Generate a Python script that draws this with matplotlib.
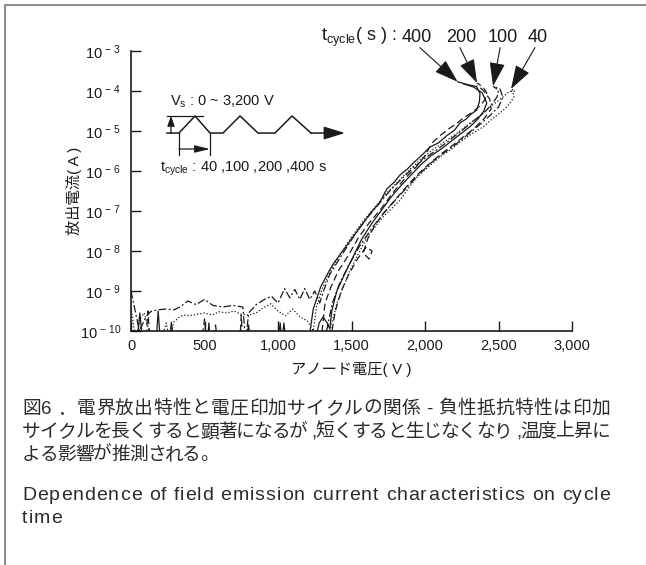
import numpy as np
import matplotlib
matplotlib.use('Agg')
import matplotlib.pyplot as plt
from matplotlib.font_manager import FontProperties
from matplotlib.lines import Line2D

plt.rcParams['font.family'] = ['Liberation Sans', 'Noto Sans CJK JP']
plt.rcParams['mathtext.fontset'] = 'custom'
plt.rcParams['mathtext.rm'] = 'Liberation Sans'
plt.rcParams['mathtext.it'] = 'Liberation Sans:italic'

# ---- data (anode voltage in V, current as log10(A)) ----
cycles = [400, 200, 100, 40]
peak_v = [2222, 2354, 2463, 2585]
peak_lg = [-3.77, -3.80, -3.88, -3.95]

# low-voltage noise floor, one trace per line style
v_noise_solid = [0, 40, 60, 80, 170, 185, 200, 260, 275, 290, 520, 530, 540, 780, 800, 815,
                 1000, 1015, 1025, 1040, 1055, 1200]
lg_noise_solid = [-10.3, -10.3, -9.55, -10.3, -10.3, -9.5, -10.3, -10.3, -9.78, -10.3, -10.3, -9.8,
                  -10.3, -10.3, -9.85, -10.3, -10.3, -9.8, -10.3, -9.8, -10.3, -10.3]
v_noise_dash = [0, 100, 115, 130, 480, 500, 515, 560, 575, 590, 740, 750, 760, 1200]
lg_noise_dash = [-10.3, -10.3, -9.5, -10.3, -10.3, -9.7, -10.3, -10.3, -9.85, -10.3, -10.3, -9.6,
                 -10.3, -10.3]
v_noise_dd = [0, 57, 102, 136, 182, 239, 295, 341, 386, 443, 500, 557, 625, 693, 761, 780, 800,
              852, 909, 955, 1000, 1045, 1080, 1114, 1148, 1182, 1216, 1250]
lg_noise_dd = [-9.0, -10.0, -9.64, -9.51, -9.47, -9.45, -9.47, -9.38, -9.25, -9.34, -9.21, -9.36,
               -9.4, -9.36, -9.4, -10.3, -9.55, -9.34, -9.21, -9.13, -9.3, -8.94, -9.17, -8.96,
               -9.21, -8.94, -9.21, -9.0]
v_noise_dot = [0, 35, 60, 90, 115, 150, 200, 240, 265, 290, 330, 360, 400, 450, 500, 550, 600,
               650, 700, 750, 800, 850, 900, 950, 1000, 1050, 1100, 1150, 1200]
lg_noise_dot = [-9.4, -10.3, -9.7, -9.55, -9.9, -10.3, -10.3, -9.8, -10.3, -9.78, -9.65, -9.6,
                -9.62, -9.58, -9.55, -9.6, -9.52, -9.55, -9.5, -9.58, -9.6, -9.55, -9.42, -9.32,
                -9.5, -9.62, -9.45, -9.65, -9.75]

# t_cycle = 400 s (solid)
v_400a = [1218, 1240, 1290, 1340, 1380, 1440, 1500, 1560, 1630, 1690, 1740, 1790, 1830, 1880,
          1920, 1980, 2034, 2090, 2147, 2200, 2238, 2280, 2306, 2351, 2370, 2374, 2351, 2290, 2222]
lg_400a = [-10.0, -9.45, -8.9, -8.55, -8.3, -8.0, -7.7, -7.4, -7.05, -6.8, -6.45, -6.28, -6.1,
           -5.95, -5.8, -5.6, -5.4, -5.3, -5.12, -4.98, -4.8, -4.7, -4.6, -4.48, -4.27, -4.06,
           -3.89, -3.84, -3.77]
v_400b = [1250, 1280, 1306, 1335, 1352, 1366, 1400, 1450, 1510, 1570, 1640, 1700, 1770, 1840,
          1900, 1970, 2040, 2110, 2180, 2250, 2310, 2360, 2400, 2420, 2390, 2330, 2260]
lg_400b = [-10.3, -9.8, -9.65, -9.8, -9.95, -9.5, -9.0, -8.6, -8.15, -7.7, -7.3, -7.0, -6.65,
           -6.35, -6.12, -5.85, -5.62, -5.45, -5.25, -5.05, -4.88, -4.7, -4.5, -4.3, -4.05,
           -3.9, -3.82]
# t_cycle = 200 s (dashed)
v_200a = [1300, 1320, 1360, 1410, 1480, 1550, 1620, 1700, 1780, 1860, 1940, 2000, 2045, 2100,
          2160, 2220, 2259, 2327, 2380, 2410, 2420, 2395, 2354]
lg_200a = [-10.0, -9.3, -8.9, -8.5, -8.1, -7.65, -7.3, -6.95, -6.55, -6.2, -5.9, -5.62, -5.31,
           -5.12, -4.95, -4.8, -4.68, -4.52, -4.35, -4.2, -4.05, -3.9, -3.8]
v_200b = [1367, 1390, 1430, 1480, 1540, 1600, 1640, 1620, 1580, 1610, 1660, 1720, 1790, 1860,
          1940, 2020, 2100, 2180, 2260, 2330, 2400, 2450, 2440, 2400, 2354]
lg_200b = [-10.0, -9.5, -9.0, -8.6, -8.2, -7.9, -8.0, -8.2, -8.05, -7.7, -7.35, -7.05, -6.75,
           -6.45, -6.12, -5.85, -5.6, -5.38, -5.15, -4.95, -4.7, -4.45, -4.2, -4.0, -3.85]
# t_cycle = 100 s (dash-dot)
v_100a = [1284, 1310, 1350, 1400, 1460, 1530, 1600, 1680, 1760, 1840, 1920, 2000, 2080, 2160,
          2240, 2320, 2400, 2450, 2490, 2500, 2463]
lg_100a = [-9.3, -9.0, -8.6, -8.3, -7.95, -7.55, -7.2, -6.85, -6.5, -6.2, -5.92, -5.68, -5.47,
           -5.25, -5.02, -4.78, -4.55, -4.35, -4.15, -3.98, -3.88]
v_100b = [1330, 1370, 1420, 1490, 1560, 1640, 1720, 1800, 1880, 1960, 2040, 2120, 2200, 2280,
          2360, 2440, 2500, 2530, 2510, 2463]
lg_100b = [-10.0, -9.3, -8.8, -8.3, -7.85, -7.42, -7.05, -6.72, -6.4, -6.08, -5.8, -5.57, -5.36,
           -5.12, -4.88, -4.62, -4.4, -4.15, -3.95, -3.88]
# t_cycle = 40 s (dotted)
v_40a = [1240, 1262, 1300, 1350, 1420, 1500, 1580, 1660, 1740, 1820, 1900, 1980, 2060, 2140,
         2220, 2300, 2380, 2460, 2530, 2570, 2610, 2600, 2585]
lg_40a = [-10.0, -9.4, -8.95, -8.55, -8.1, -7.65, -7.25, -6.9, -6.55, -6.25, -5.95, -5.68, -5.45,
          -5.25, -5.05, -4.82, -4.6, -4.35, -4.15, -4.02, -4.0, -3.97, -3.95]
v_40b = [1354, 1401, 1450, 1490, 1550, 1605, 1660, 1714, 1770, 1830, 1890, 1946, 2000, 2054,
         2110, 2170, 2230, 2286, 2340, 2395, 2450, 2510, 2550, 2578, 2605, 2599, 2585]
lg_40b = [-10.0, -9.3, -8.85, -8.48, -8.05, -7.65, -7.4, -7.15, -6.95, -6.73, -6.42, -6.15,
          -5.97, -5.8, -5.62, -5.48, -5.3, -5.15, -5.02, -4.9, -4.72, -4.55, -4.42, -4.3, -4.15,
          -4.05, -3.97]

x_ticks = [0, 500, 1000, 1500, 2000, 2500, 3000]
x_tick_labels = ['0', '500', '1,000', '1,500', '2,000', '2,500', '3,000']
y_exps = [-10, -9, -8, -7, -6, -5, -4, -3]

cap_jp = ['図6 ．電界放出特性と電圧印加サイクルの関係 - 負性抵抗特性は印加',
          'サイクルを長くすると顕著になるが ,短くすると生じなくなり ,温度上昇に',
          'よる影響が推測される。']
cap_en = ['Dependence of field emission current characteristics on cycle', 'time']

INK = '#1a1a1a'
CAP = '#2b2b2b'
W, H = 646, 565

fig = plt.figure(figsize=(W / 100, H / 100), dpi=100)
ax = fig.add_axes([131 / W, 1 - 331 / H, 441 / W, 280 / H])

styles = {'solid': '-', 'dash': (0, (5.5, 3)), 'dd': (0, (6, 2, 1.5, 2)), 'dot': (0, (1, 1.6))}
traces = [
    (v_noise_solid + v_400a, lg_noise_solid + lg_400a, 'solid'),
    (v_400b, lg_400b, 'solid'),
    (v_noise_dash + v_200a, lg_noise_dash + lg_200a, 'dash'),
    (v_200b, lg_200b, 'dash'),
    (v_noise_dd + v_100a, lg_noise_dd + lg_100a, 'dd'),
    (v_100b, lg_100b, 'dd'),
    (v_noise_dot + v_40a, lg_noise_dot + lg_40a, 'dot'),
    (v_40b, lg_40b, 'dot'),
]
for v, lg, st in traces:
    ax.plot(v, 10.0 ** np.array(lg), color=INK, lw=0.9, ls=styles[st])

ax.set_yscale('log')
ax.set_xlim(0, 3000)
ax.set_ylim(1e-10, 1e-3)
ax.set_xticks(x_ticks)
ax.set_xticklabels(x_tick_labels)
ax.set_yticks([10.0 ** e for e in y_exps])
ax.set_yticklabels([r'10$^{\mathregular{\,-\,%d}}$' % (-e) for e in y_exps])
ax.yaxis.set_minor_locator(matplotlib.ticker.NullLocator())
ax.tick_params(direction='in', length=7, width=1, color=INK, labelsize=10.5, labelcolor=INK)
ax.tick_params(axis='y', pad=7)
ax.tick_params(axis='x', pad=6)
for s in ['top', 'right']:
    ax.spines[s].set_visible(False)
for s in ['left', 'bottom']:
    ax.spines[s].set_linewidth(1.2)
    ax.spines[s].set_color(INK)

ax.set_xlabel('アノード電圧( V )', fontsize=11, color=INK)
ax.xaxis.set_label_coords(0.5, -0.11)
ax.set_ylabel('放出電流( A )', fontsize=11, color=INK)
ax.yaxis.set_label_coords(-0.11, 0.5)

# inset: applied voltage waveform (axes coordinates)
wave_x = [0.0816, 0.1088, 0.1451, 0.1791, 0.2086, 0.2472, 0.2880, 0.3265, 0.3651, 0.4082]
wave_y = [0.707, 0.707, 0.768, 0.707, 0.707, 0.768, 0.707, 0.707, 0.768, 0.707]
ax.plot(wave_x, wave_y, color=INK, lw=1.1, transform=ax.transAxes, clip_on=False)
ax.annotate('', xy=(0.4853, 0.707), xytext=(0.4082, 0.707), xycoords='axes fraction',
            arrowprops=dict(arrowstyle='-|>,head_length=0.65,head_width=0.2', color=INK, lw=1.1,
                            mutation_scale=20, shrinkA=0, shrinkB=0))
ax.plot([0.0816, 0.163], [0.768, 0.768], color=INK, lw=0.9, transform=ax.transAxes)
ax.annotate('', xy=(0.0907, 0.768), xytext=(0.0907, 0.707), xycoords='axes fraction',
            arrowprops=dict(arrowstyle='-|>,head_length=0.55,head_width=0.2', color=INK, lw=0.9,
                            mutation_scale=11, shrinkA=0, shrinkB=0))
for xb in [0.1088, 0.1791]:
    ax.plot([xb, xb], [0.707, 0.627], color=INK, lw=0.9, transform=ax.transAxes)
ax.annotate('', xy=(0.1791, 0.65), xytext=(0.1088, 0.65), xycoords='axes fraction',
            arrowprops=dict(arrowstyle='-|>,head_length=0.7,head_width=0.17', color=INK, lw=0.9,
                            mutation_scale=13, shrinkA=0, shrinkB=0))
ax.text(0.088, 0.818, r'V$_\mathregular{s}$ : 0 ~ 3,200 V', transform=ax.transAxes,
        fontsize=10.5, color=INK, ha='left', va='center')
ax.text(0.0658, 0.579, r't$_\mathregular{cycle}$ : 40 ,100 ,200 ,400 s', transform=ax.transAxes,
        fontsize=10.5, color=INK, ha='left', va='center')

# peak annotation
ax.text(0.6030, 1.05, r't$_\mathregular{cycle}$( s ) :', transform=ax.transAxes,
        fontsize=13, color=INK, ha='right', va='center', clip_on=False)
lab_x = [0.648, 0.748, 0.8435, 0.923]
arr_x = [0.655, 0.746, 0.837, 0.916]
for c, pv, pl, lx, axx in zip(cycles, peak_v, peak_lg, lab_x, arr_x):
    ax.text(lx, 1.05, str(c), transform=ax.transAxes, fontsize=13, color=INK,
            ha='center', va='center', clip_on=False)
    ax.annotate('', xy=(pv, 10.0 ** pl), xycoords='data', xytext=(axx, 1.012),
                textcoords='axes fraction',
                arrowprops=dict(arrowstyle='-|>,head_length=0.55,head_width=0.18', color=INK,
                                lw=0.8, mutation_scale=27, shrinkA=0, shrinkB=0))

# frame lines (top and left)
fig.add_artist(Line2D([5 / W, 1], [1 - 5 / H, 1 - 5 / H], transform=fig.transFigure,
                      color='#8a8a8a', lw=1.4))
fig.add_artist(Line2D([5 / W, 5 / W], [0, 1 - 5 / H], transform=fig.transFigure,
                      color='#8a8a8a', lw=1.4))

# caption, letter-spaced and justified like the original
rend = fig.canvas.get_renderer()


def put_line(text, x0, base, size, track=None, x1=None):
    prop = FontProperties(family=['Liberation Sans', 'Noto Sans CJK JP'], size=size)
    ws = [rend.get_text_width_height_descent(ch, prop, ismath=False)[0] for ch in text]
    if x1 is not None:
        track = (x1 - x0 - sum(ws)) / (len(text) - 1)
    x = x0
    for ch, w in zip(text, ws):
        fig.text(x / W, 1 - base / H, ch, fontproperties=prop, color=CAP,
                 ha='left', va='baseline')
        x += w + track
    return track


tr = put_line(cap_jp[0], 22, 414, 13.5, x1=610)
tr = put_line(cap_jp[1], 22, 437, 13.5, x1=610)
put_line(cap_jp[2], 22, 460, 13.5, track=tr)
tr = put_line(cap_en[0], 22, 500, 14, x1=610)
put_line(cap_en[1], 22, 523, 14, track=tr)

fig.savefig('out.png', dpi=100)
